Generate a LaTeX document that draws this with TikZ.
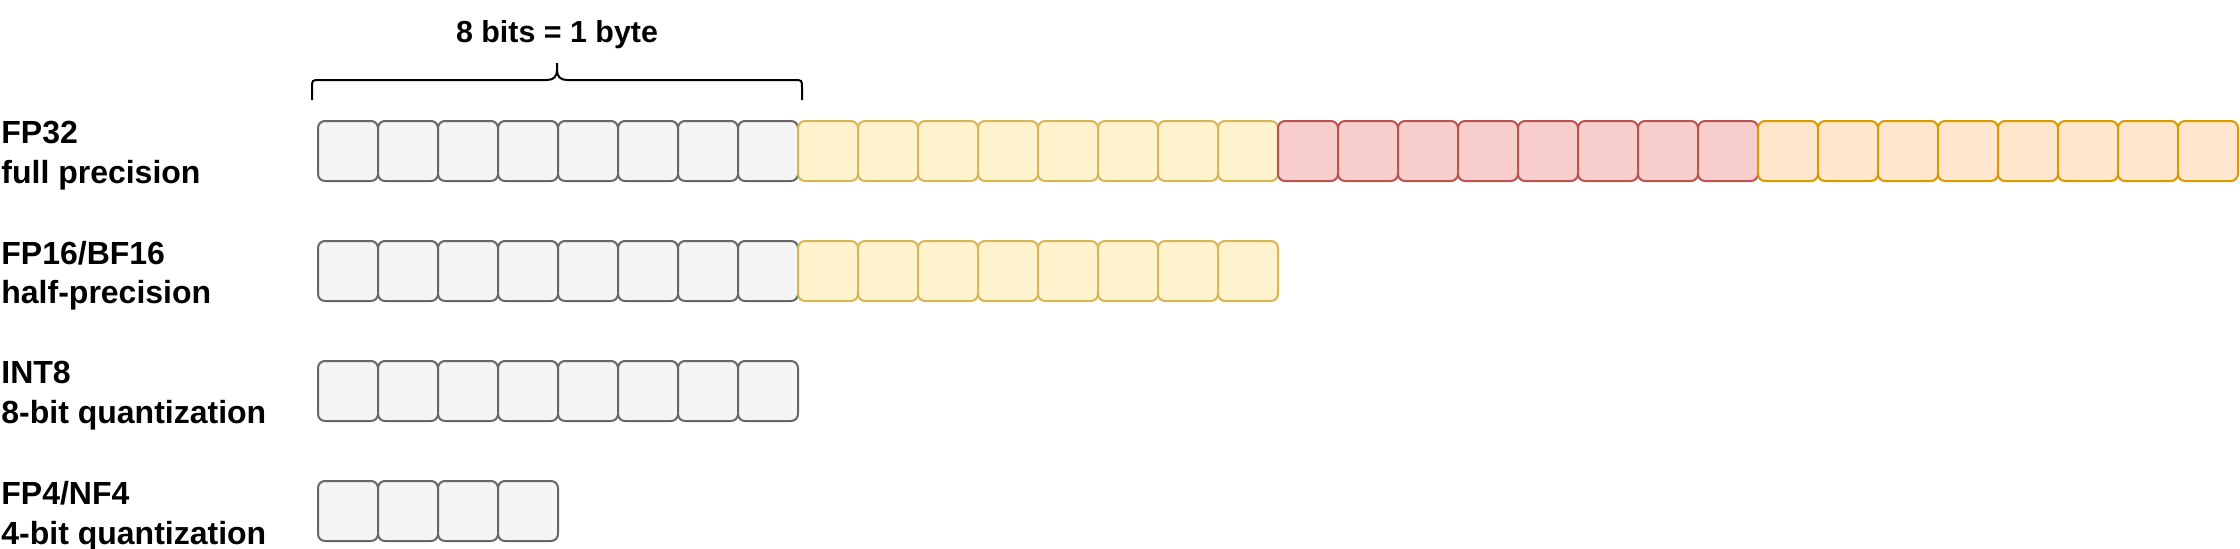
\documentclass[tikz,border=0pt]{standalone}
\usepackage{fontspec}
\setmainfont{Liberation Sans}
\usepackage{xcolor}
\usetikzlibrary{positioning}
\definecolor{grayfill}{HTML}{F5F5F5}
\definecolor{graydraw}{HTML}{666666}
\definecolor{yellowfill}{HTML}{FFF2CC}
\definecolor{yellowdraw}{HTML}{D6B656}
\definecolor{redfill}{HTML}{F8CECC}
\definecolor{reddraw}{HTML}{B85450}
\definecolor{orangefill}{HTML}{FFE6CC}
\definecolor{orangedraw}{HTML}{D79B00}

\begin{document}
\begin{tikzpicture}[x=0.5pt, y=-0.5pt,
    bit/.style={draw, line width=1pt, rounded corners=3.5pt, minimum width=30pt, minimum height=30pt, inner sep=0pt},
    gbit/.style={bit, fill=grayfill, draw=graydraw},
    ybit/.style={bit, fill=yellowfill, draw=yellowdraw},
    rbit/.style={bit, fill=redfill, draw=reddraw},
    obit/.style={bit, fill=orangefill, draw=orangedraw},
    lbl/.style={anchor=north west, inner sep=0pt, align=left, font=\fontsize{16pt}{19.7pt}\selectfont\bfseries}]
    \useasboundingbox (0, 0) rectangle (2240, 548);
    % row labels
    \node[lbl] (fp32) at (1, 121) {FP32\\full precision};
    \node[lbl] (fp16) at (1, 241) {FP16/BF16\\half-precision};
    \node[lbl] (int8) at (1, 361) {INT8\\8-bit quantization};
    \node[lbl] (fp4) at (1, 481) {FP4/NF4\\4-bit quantization};
    % FP32
    \foreach \i in {1,...,8} \node[gbit] (a\i) at ({288+60*\i}, 151) {};
    \foreach \i in {9,...,16} \node[ybit] (a\i) at ({288+60*\i}, 151) {};
    \foreach \i in {17,...,24} \node[rbit] (a\i) at ({288+60*\i}, 151) {};
    \foreach \i in {25,...,32} \node[obit] (a\i) at ({288+60*\i}, 151) {};
    % FP16/BF16
    \foreach \i in {1,...,8} \node[gbit] (b\i) at ({288+60*\i}, 271) {};
    \foreach \i in {9,...,16} \node[ybit] (b\i) at ({288+60*\i}, 271) {};
    % INT8
    \foreach \i in {1,...,8} \node[gbit] (c\i) at ({288+60*\i}, 391) {};
    % FP4/NF4
    \foreach \i in {1,...,4} \node[gbit] (d\i) at ({288+60*\i}, 511) {};
    % brace over one byte
    \coordinate (bl) at (312, 100);
    \coordinate (br) at (802, 100);
    \coordinate (bt) at (557, 63);
    \node[font=\fontsize{15.2pt}{18pt}\selectfont\bfseries, anchor=base, inner sep=0pt] (byte) at (557, 42) {8 bits = 1 byte};
    \draw[line width=1pt]
    (bl) -- (312, 88) .. controls (312, 80) .. (320, 80) -- (547, 80) .. controls (554, 80) and (557, 76) .. (557, 70) -- (bt)
    (bt) -- (557, 70) .. controls (557, 76) and (560, 80) .. (567, 80) -- (794, 80) .. controls (802, 80) .. (802, 88) -- (br);
\end{tikzpicture}
\end{document}
